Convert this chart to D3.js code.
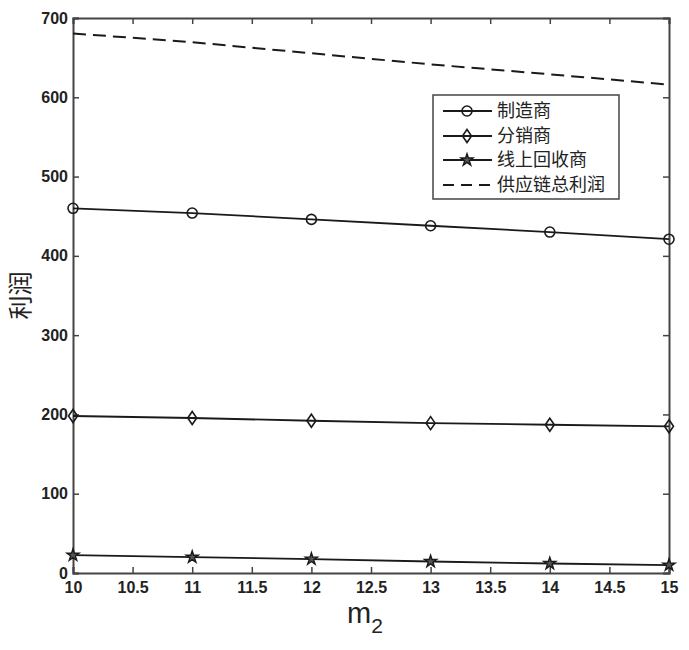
<!DOCTYPE html>
<html>
<head>
<meta charset="utf-8">
<script src="https://cdn.jsdelivr.net/npm/d3@7"></script>
<style>
  html, body { margin: 0; padding: 0; background: #fff; }
  svg { display: block; }
</style>
</head>
<body>
<svg id="chart" width="689" height="650"></svg>
<script>
const xValues = [10, 11, 12, 13, 14, 15];
const manufacturer = [460, 454, 446, 438, 430, 421];
const distributor = [198, 195.5, 192, 189, 187, 185];
const recycler = [22.5, 20, 17.5, 14.5, 12, 10];
const supplyChainTotal = [680.5, 669.5, 655.5, 641.5, 629, 616];
const seriesNames = ["制造商", "分销商", "线上回收商", "供应链总利润"];
const xTicks = [10, 10.5, 11, 11.5, 12, 12.5, 13, 13.5, 14, 14.5, 15];
const yTicks = [0, 100, 200, 300, 400, 500, 600, 700];

const svg = d3.select("#chart");
const margin = { left: 73, right: 20, top: 18, bottom: 77 };
const W = 689, H = 650;
const x = d3.scaleLinear().domain([10, 15]).range([margin.left, W - margin.right]);
const y = d3.scaleLinear().domain([0, 700]).range([H - margin.bottom, margin.top]);

const axisColor = "#444";
const lineColor = "#1a1a1a";
const tickFont = "bold 16px 'Liberation Sans', Arial, sans-serif";

// axes (inward ticks on all four sides)
const gB = svg.append("g").attr("transform", `translate(0,${y(0)})`)
  .call(d3.axisBottom(x).tickValues(xTicks).tickSize(-6).tickPadding(9).tickFormat(d3.format("")));
const gT = svg.append("g").attr("transform", `translate(0,${y(700)})`)
  .call(d3.axisTop(x).tickValues(xTicks).tickSize(-6).tickFormat(""));
const gL = svg.append("g").attr("transform", `translate(${x(10)},0)`)
  .call(d3.axisLeft(y).tickValues(yTicks).tickSize(-6).tickPadding(5));
const gR = svg.append("g").attr("transform", `translate(${x(15)},0)`)
  .call(d3.axisRight(y).tickValues(yTicks).tickSize(-6).tickFormat(""));
[gB, gT, gL, gR].forEach(g => {
  g.select(".domain").attr("stroke", axisColor).attr("stroke-width", 2);
  g.selectAll(".tick line").attr("stroke", axisColor).attr("stroke-width", 1.5);
  g.selectAll("text").style("font", tickFont).attr("fill", "#222");
});

// line generator
const line = d3.line().x((d, i) => x(xValues[i])).y(d => y(d));

svg.append("path").datum(supplyChainTotal).attr("d", line)
  .attr("fill", "none").attr("stroke", lineColor).attr("stroke-width", 2)
  .attr("stroke-dasharray", "13,7");

const solidSeries = [
  { data: manufacturer, marker: "circle" },
  { data: distributor, marker: "diamond" },
  { data: recycler, marker: "star" }
];

function drawMarker(g, type, cx, cy) {
  if (type === "circle") {
    g.append("circle").attr("cx", cx).attr("cy", cy).attr("r", 5)
      .attr("fill", "none").attr("stroke", lineColor).attr("stroke-width", 1.6);
  } else if (type === "diamond") {
    g.append("path").attr("d", `M${cx},${cy - 6.5}L${cx + 4.5},${cy}L${cx},${cy + 6.5}L${cx - 4.5},${cy}Z`)
      .attr("fill", "none").attr("stroke", lineColor).attr("stroke-width", 1.6);
  } else {
    g.append("path").attr("d", d3.symbol(d3.symbolStar, 45)())
      .attr("transform", `translate(${cx},${cy})`)
      .attr("fill", "#555").attr("stroke", lineColor).attr("stroke-width", 1.4);
  }
}

solidSeries.forEach(s => {
  svg.append("path").datum(s.data).attr("d", line)
    .attr("fill", "none").attr("stroke", lineColor).attr("stroke-width", 1.8);
  const g = svg.append("g");
  s.data.forEach((v, i) => drawMarker(g, s.marker, x(xValues[i]), y(v)));
});

// legend
const lg = svg.append("g");
lg.append("rect").attr("x", 433).attr("y", 95).attr("width", 186).attr("height", 104)
  .attr("fill", "#fff").attr("stroke", axisColor).attr("stroke-width", 1.5);
const rowsY = [111, 136, 160, 185];
const markers = ["circle", "diamond", "star", null];
seriesNames.forEach((name, i) => {
  const yy = rowsY[i];
  const ln = lg.append("line").attr("x1", 443).attr("x2", 492).attr("y1", yy).attr("y2", yy)
    .attr("stroke", lineColor).attr("stroke-width", markers[i] ? 1.8 : 2);
  if (!markers[i]) ln.attr("stroke-dasharray", "11,7");
  else drawMarker(lg, markers[i], 467, yy);
  lg.append("text").attr("x", 497).attr("y", yy).attr("dy", "0.36em")
    .style("font", "18px 'Noto Sans CJK SC', sans-serif").attr("fill", "#222").text(name);
});

// axis labels
svg.append("text").attr("transform", `translate(21,${(y(0) + y(700)) / 2}) rotate(-90)`)
  .attr("text-anchor", "middle").attr("dy", "0.35em")
  .style("font", "24px 'Noto Sans CJK SC', sans-serif").attr("fill", "#222").text("利润");

const xl = svg.append("text").attr("x", (x(10) + x(15)) / 2 - 6).attr("y", 623)
  .attr("text-anchor", "middle")
  .style("font", "29px 'Liberation Sans', Arial, sans-serif").attr("fill", "#222");
xl.append("tspan").text("m");
xl.append("tspan").attr("dy", 10).style("font-size", "21px").text("2");
</script>
</body>
</html>
